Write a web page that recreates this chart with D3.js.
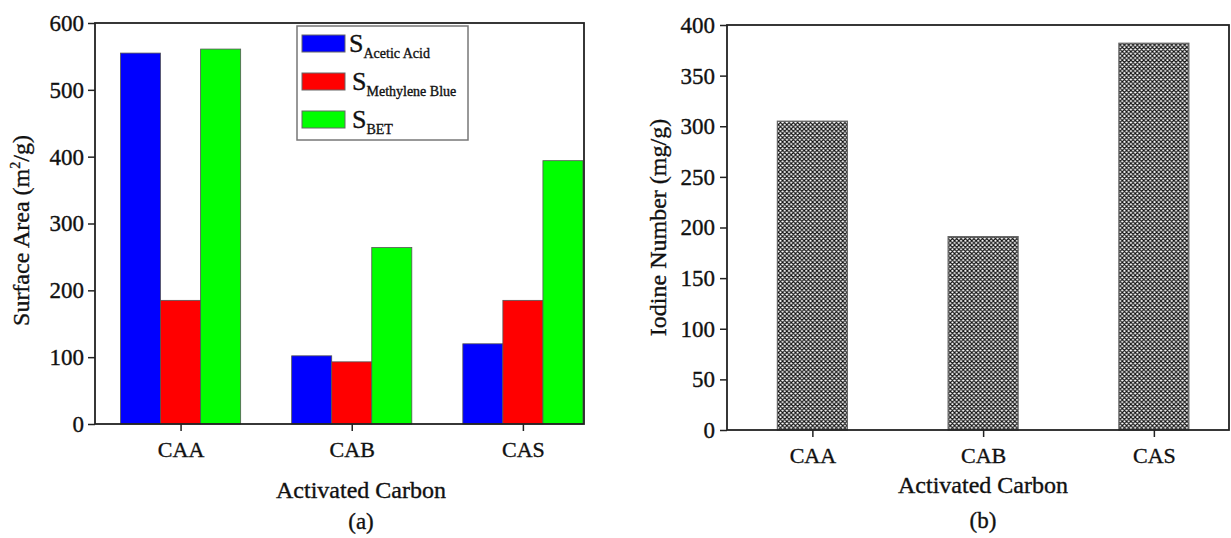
<!DOCTYPE html>
<html>
<head>
<meta charset="utf-8">
<script src="https://cdn.jsdelivr.net/npm/d3@7/dist/d3.min.js"></script>
<style>
  html, body { margin: 0; padding: 0; background: #fff; }
  svg { display: block; font-family: "Liberation Serif", "Times New Roman", serif; }
  svg text { fill: #111; stroke: #111; stroke-width: 0.35px; }
</style>
</head>
<body>
<svg id="chart" width="1231" height="538"></svg>
<script>
// Activated carbon samples
const categories = ["CAA", "CAB", "CAS"];

// (a) surface area by method, m²/g
const aceticAcid = [555, 102, 120];
const methyleneBlue = [185, 93, 185];
const bet = [561, 264, 394];

// (b) iodine number, mg/g
const iodine = [305, 191, 382];

const surfaceTicks = [0, 100, 200, 300, 400, 500, 600];
const iodineTicks = [0, 50, 100, 150, 200, 250, 300, 350, 400];

const svg = d3.select("#chart");
const axisColor = "#222";

// cross-hatch fill for the iodine bars
const P = 4.3;
const defs = svg.append("defs");
const pat = defs.append("pattern")
  .attr("id", "crosshatch")
  .attr("patternUnits", "userSpaceOnUse")
  .attr("width", P).attr("height", P);
pat.append("rect").attr("width", P).attr("height", P).attr("fill", "#fff");
pat.append("path")
  .attr("d", `M0,0L${P},${P}M${P},0L0,${P}M-1,${P - 1}L1,${P + 1}M${P - 1},-1L${P + 1},1M-1,1L1,-1M${P - 1},${P + 1}L${P + 1},${P - 1}`)
  .attr("stroke", "#111").attr("stroke-width", 1.1);

function styleAxis(g, size) {
  g.selectAll(".domain").remove();
  g.selectAll(".tick line").attr("stroke", axisColor).attr("stroke-width", 1.5);
  g.selectAll(".tick text")
    .style("font-family", "'Liberation Serif', serif").style("font-size", size + "px");
}

function frame(x0, x1, y0, y1) {
  svg.append("rect")
    .attr("x", x0).attr("y", y0)
    .attr("width", x1 - x0).attr("height", y1 - y0)
    .attr("fill", "none").attr("stroke", axisColor).attr("stroke-width", 1.8);
}

// ---------- Panel (a): surface area ----------
{
  const left = 95, right = 584, top = 23, bottom = 424;
  const x = d3.scaleLinear().domain([0.5, 3.357]).range([left, right]);
  const y = d3.scaleLinear().domain([0, 600]).range([bottom, top]);
  const barW = x(1.234) - x(1);   // one bar width in px

  const series = [
    { values: aceticAcid, color: "#0000ff", offset: -1.5 },
    { values: methyleneBlue, color: "#ff0000", offset: -0.5 },
    { values: bet, color: "#00ff00", offset: 0.5 }
  ];

  series.forEach(s => {
    svg.append("g").selectAll("rect")
      .data(s.values)
      .join("rect")
      .attr("x", (d, i) => x(i + 1) + s.offset * barW)
      .attr("y", d => y(d))
      .attr("width", barW)
      .attr("height", d => y(0) - y(d))
      .attr("fill", s.color)
      .attr("stroke", "#555")
      .attr("stroke-width", 0.8);
  });

  svg.append("g")
    .attr("transform", `translate(${left},0)`)
    .call(d3.axisLeft(y).tickValues(surfaceTicks).tickSize(7).tickPadding(4))
    .call(g => styleAxis(g, 23));

  svg.append("g")
    .attr("transform", `translate(0,${bottom})`)
    .call(d3.axisBottom(x).tickValues([1, 2, 3]).tickFormat(d => categories[d - 1]).tickSize(7).tickPadding(10))
    .call(g => styleAxis(g, 22));

  frame(left, right, top, bottom);

  svg.append("text")
    .attr("transform", `translate(29,${(top + bottom) / 2 + 7}) rotate(-90)`)
    .attr("text-anchor", "middle")
    .style("font-size", "24px")
    .call(t => {
      t.append("tspan").text("Surface Area (m");
      t.append("tspan").text("2").attr("dy", -9).style("font-size", "14px");
      t.append("tspan").text("/g)").attr("dy", 9);
    });

  svg.append("text")
    .attr("x", 361).attr("y", 498)
    .attr("text-anchor", "middle").style("font-size", "24px")
    .text("Activated Carbon");

  svg.append("text")
    .attr("x", 361).attr("y", 529)
    .attr("text-anchor", "middle").style("font-size", "23px")
    .text("(a)");

  // legend
  const lg = svg.append("g");
  lg.append("rect")
    .attr("x", 297).attr("y", 26).attr("width", 171).attr("height", 114)
    .attr("fill", "#fff").attr("stroke", "#777").attr("stroke-width", 1.5);
  const legendItems = [
    { color: "#0000ff", sub: "Acetic Acid" },
    { color: "#ff0000", sub: "Methylene Blue" },
    { color: "#00ff00", sub: "BET" }
  ];
  legendItems.forEach((it, i) => {
    const yy = 35 + i * 38;
    lg.append("rect")
      .attr("x", 302).attr("y", yy).attr("width", 43).attr("height", 17)
      .attr("fill", it.color).attr("stroke", "#666").attr("stroke-width", 1);
    const t = lg.append("text")
      .attr("x", i === 0 ? 349 : 352).attr("y", yy + 17);
    t.append("tspan").text("S").style("font-size", "26px");
    t.append("tspan").text(it.sub).attr("dy", 6).style("font-size", "14px");
  });
}

// ---------- Panel (b): iodine number ----------
{
  const left = 727, right = 1229, top = 25, bottom = 430;
  const x = d3.scaleLinear().domain([0.5, 3.44]).range([left, right]);
  const y = d3.scaleLinear().domain([0, 400]).range([bottom, top]);
  const barW = x(1.41) - x(1);

  svg.append("g").selectAll("rect")
    .data(iodine)
    .join("rect")
    .attr("x", (d, i) => x(i + 1) - barW / 2)
    .attr("y", d => y(d))
    .attr("width", barW)
    .attr("height", d => y(0) - y(d))
    .attr("fill", "url(#crosshatch)")
    .attr("stroke", "#666")
    .attr("stroke-width", 1.2);

  svg.append("g")
    .attr("transform", `translate(${left},0)`)
    .call(d3.axisLeft(y).tickValues(iodineTicks).tickSize(7).tickPadding(5))
    .call(g => styleAxis(g, 23));

  svg.append("g")
    .attr("transform", `translate(0,${bottom})`)
    .call(d3.axisBottom(x).tickValues([1, 2, 3]).tickFormat(d => categories[d - 1]).tickSize(7).tickPadding(10))
    .call(g => styleAxis(g, 22));

  frame(left, right, top, bottom);

  svg.append("text")
    .attr("transform", `translate(666,${(top + bottom) / 2}) rotate(-90)`)
    .attr("text-anchor", "middle")
    .style("font-size", "24px")
    .text("Iodine Number (mg/g)");

  svg.append("text")
    .attr("x", 983).attr("y", 493)
    .attr("text-anchor", "middle").style("font-size", "24px")
    .text("Activated Carbon");

  svg.append("text")
    .attr("x", 983).attr("y", 528)
    .attr("text-anchor", "middle").style("font-size", "23px")
    .text("(b)");
}
</script>
</body>
</html>
